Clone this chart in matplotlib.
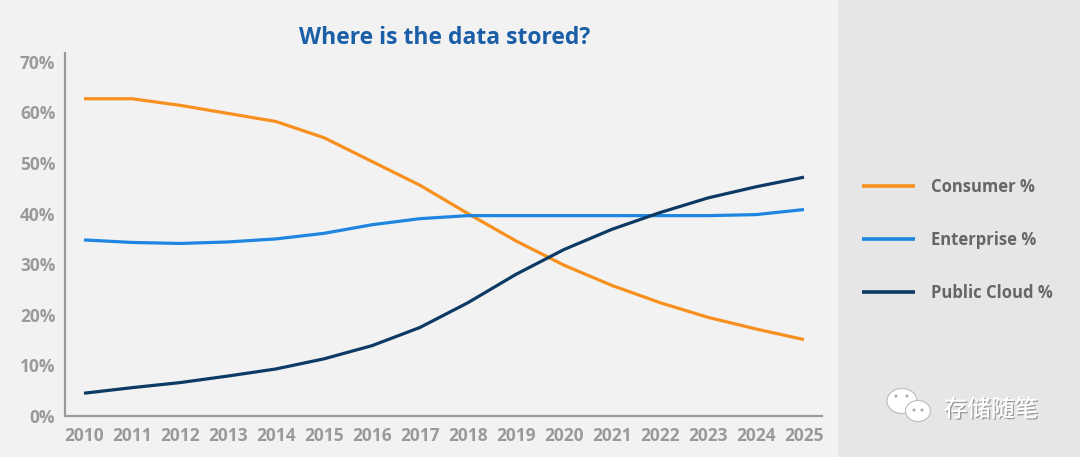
# "Where is the data stored?" line chart recreation
import numpy as np
import matplotlib.pyplot as plt
from matplotlib.patches import Rectangle, Ellipse
import matplotlib.patheffects as pe

# ----------------------------
# DATA
# ----------------------------
years = list(range(2010, 2026))
consumer = [62.7, 62.7, 61.4, 59.8, 58.2, 55.0, 50.3, 45.6, 40.0, 34.6, 29.8, 25.8, 22.4, 19.5, 17.2, 15.1]
enterprise = [34.8, 34.3, 34.1, 34.4, 35.0, 36.1, 37.8, 39.0, 39.6, 39.6, 39.6, 39.6, 39.6, 39.6, 39.8, 40.8]
public_cloud = [4.5, 5.6, 6.6, 7.9, 9.3, 11.3, 13.9, 17.5, 22.4, 28.0, 32.9, 36.9, 40.2, 43.1, 45.3, 47.2]
series_names = ["Consumer %", "Enterprise %", "Public Cloud %"]
yticks = [0, 10, 20, 30, 40, 50, 60, 70]
title = "Where is the data stored?"

# ----------------------------
# STYLE
# ----------------------------
colors = ["#F7901E", "#1E86E0", "#0C3A64"]
BG_LEFT = "#F2F2F2"
BG_RIGHT = "#E6E6E6"
AXIS_GRAY = "#9A9A9A"
FONT = ["Open Sans", "DejaVu Sans"]

fig = plt.figure(figsize=(10.8, 4.57), dpi=100, facecolor=BG_LEFT)

# right legend panel
fig.add_artist(Rectangle((838 / 1080, 0), 1 - 838 / 1080, 1, transform=fig.transFigure,
                         facecolor=BG_RIGHT, edgecolor="none", zorder=0))

ax = fig.add_axes([65 / 1080, 1 - 416 / 457, (822 - 65) / 1080, (416 - 52.7) / 457])
ax.set_facecolor("none")

handles = []
for vals, c, name in zip([consumer, enterprise, public_cloud], colors, series_names):
    h, = ax.plot(years, vals, color=c, lw=2.3, solid_capstyle="butt",
                 solid_joinstyle="round", label=name)
    handles.append(h)

ax.set_xlim(2009.604, 2025.375)
ax.set_ylim(0, 71.8)
ax.set_xticks(years)
ax.set_xticklabels([str(y) for y in years])
ax.set_yticks(yticks)
ax.set_yticklabels([f"{v}%" for v in yticks])
ax.tick_params(length=0, colors=AXIS_GRAY, labelsize=12.5)
ax.tick_params(axis="x", pad=8)
ax.tick_params(axis="y", pad=7)
for lab in ax.get_xticklabels() + ax.get_yticklabels():
    lab.set_fontweight("bold")
    lab.set_family(FONT)
for side in ["top", "right"]:
    ax.spines[side].set_visible(False)
for side in ["left", "bottom"]:
    ax.spines[side].set_color(AXIS_GRAY)
    ax.spines[side].set_linewidth(1.6)

fig.text(445 / 1080, 1 - 38 / 457, title, ha="center", va="center", fontsize=16.5,
         fontweight="bold", color="#1A5EA8", family=FONT)

# legend drawn in the right panel
leg = fig.legend(handles=handles, labels=series_names, loc="center left",
                 bbox_to_anchor=(862 / 1080, 1 - 240 / 457), frameon=False,
                 borderpad=0, borderaxespad=0,
                 handlelength=3.2, handletextpad=0.95, labelspacing=2.1,
                 prop={"family": FONT, "weight": "bold", "size": 12})
for t in leg.get_texts():
    t.set_color("#666666")
for l in leg.get_lines():
    l.set_linewidth(2.6)

# watermark (WeChat-style icon + text)
ov = fig.add_axes([0, 0, 1, 1], facecolor="none")
ov.set_xlim(0, 1080)
ov.set_ylim(457, 0)
ov.axis("off")
ov.add_patch(Ellipse((902, 401), 30, 25, facecolor="white", edgecolor="#BBBBBB", lw=0.8))
ov.add_patch(Ellipse((918, 411), 25, 21, facecolor="white", edgecolor="#BBBBBB", lw=0.8))
for x, y in [(896, 396), (907, 396), (914, 410), (922, 410)]:
    ov.add_patch(Ellipse((x, y), 3, 3, facecolor="#AAAAAA", edgecolor="none"))
ov.text(991, 410, "存储随笔", ha="center", va="center", fontsize=17, color="white",
        family=["Noto Sans CJK SC", "DejaVu Sans"],
        path_effects=[pe.withSimplePatchShadow(offset=(1, -1), shadow_rgbFace="#888888", alpha=0.8),
                      pe.Normal()])

fig.savefig("out.png", dpi=100, facecolor=fig.get_facecolor())
